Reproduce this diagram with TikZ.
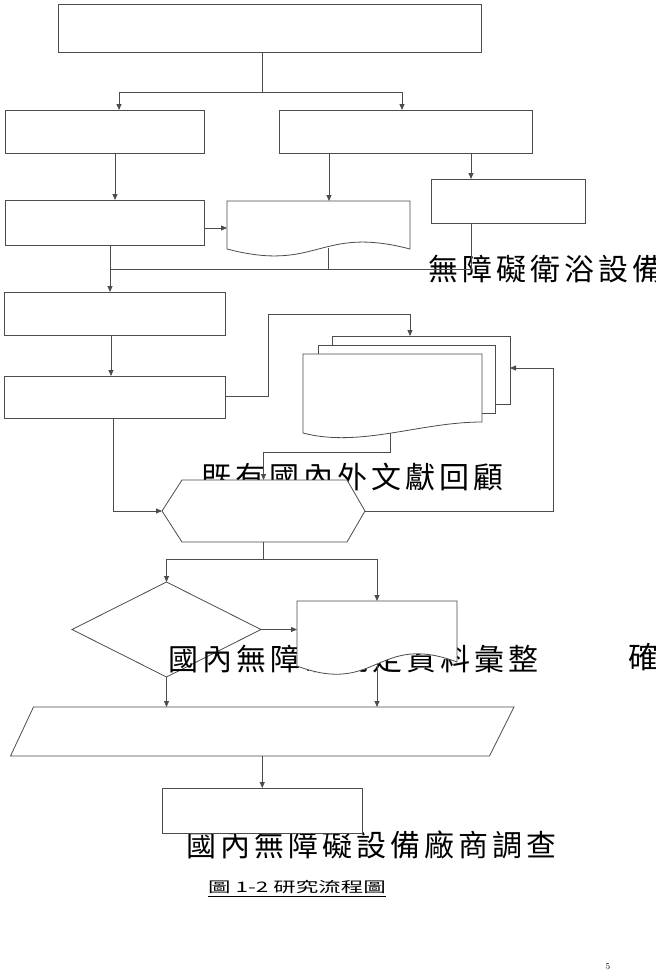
\documentclass[tikz,border=0pt]{standalone}
\usepackage{fontspec}
\usepackage{graphicx}
\usetikzlibrary{arrows.meta}
\newfontfamily\cjkfont[LetterSpace=13.3]{Noto Sans CJK TC}
\newfontfamily\capfont{Noto Sans CJK TC}
\begin{document}
\begin{tikzpicture}[x=1pt,y=-1pt,
  ln/.style={draw=black!70, line width=0.8pt},
  arr/.style={ln, -{Triangle[length=6pt,width=5pt]}},
  box/.style={ln, fill=white, rectangle, inner sep=0pt, outer sep=0pt, anchor=north west},
  ghost/.style={rectangle, inner sep=0pt, outer sep=0pt, anchor=north west},
  shp/.style={ln, fill=white, line join=miter},
  big/.style={font=\cjkfont\fontsize{30}{30}\selectfont, anchor=base west, inner sep=0pt},
]
\fill[white] (0,0) rectangle (656,970);
\useasboundingbox (0,0) rectangle (656,970);

% ---- upper part
\node[big] (t1) at (428.5,280) {無障礙衛浴設備};
\node[box, minimum width=423, minimum height=48] (top) at (58,4) {};
\node[box, minimum width=199, minimum height=43] (A) at (5,110) {};
\node[box, minimum width=253, minimum height=43] (B) at (279,110) {};
\node[box, minimum width=154, minimum height=44] (E) at (431,179) {};
\node[box, minimum width=199, minimum height=45] (C) at (5,200) {};
\node[ghost, minimum width=183, minimum height=48] (D) at (227,201) {};
\draw[shp] (D.north west) -- (D.north east) -- (D.south east)
  .. controls ([yshift=24]D.south) and ([yshift=-24]D.south) .. (D.south west) -- cycle;
\coordinate (Dbot) at ([xshift=9.5,yshift=1.5]D.south);

\node[box, minimum width=221, minimum height=43] (F) at (4,292) {};
\node[box, minimum width=221, minimum height=42] (G) at (4,376) {};

% ---- multi document
\node[box, minimum width=178, minimum height=68] (back) at (332,336) {};
\node[box, minimum width=177, minimum height=68] (mid) at (318,345) {};
\node[ghost, minimum width=179, minimum height=68] (front) at (303,354) {};
\draw[shp] (front.north west) -- (front.north east) -- (front.south east)
  .. controls (420,422) and (360,448) .. (303,433) -- cycle;
\coordinate (fbot) at (390,433);

% ---- hexagon
\node[big] (t2) at (201.5,488) {既有國內外文獻回顧};
\node[ghost, minimum width=203, minimum height=62] (hex) at (162,480) {};
\draw[shp] (hex.west) -- ([xshift=20]hex.north west) -- ([xshift=-18]hex.north east)
  -- (hex.east) -- ([xshift=-18]hex.south east) -- ([xshift=20]hex.south west) -- cycle;

% ---- diamond and document
\node[ghost, minimum width=189, minimum height=95] (dia) at (72,582) {};
\draw[shp] (dia.north) -- (dia.east) -- (dia.south) -- (dia.west) -- cycle;
\node[big] (t3) at (168.5,670) {國內無障礙規定資料彙整};
\node[big] (t4) at (628.5,668) {確};
\node[ghost, minimum width=160, minimum height=63] (H) at (297,601) {};
\draw[shp] (H.north west) -- (H.north east) -- ([yshift=2]H.south east)
  .. controls ([yshift=32]H.south) and ([yshift=-32]H.south) .. ([yshift=-2]H.south west) -- cycle;

% ---- parallelogram and last box
\node[ghost, minimum width=503.5, minimum height=49] (para) at (10.5,707) {};
\draw[shp] ([xshift=23]para.north west) -- (para.north east)
  -- ([xshift=-24.5]para.south east) -- (para.south west) -- cycle;
\node[big] (t5) at (186.5,856) {國內無障礙設備廠商調查};
\node[box, minimum width=200, minimum height=45] (I) at (162,788) {};

% ---- connectors
\coordinate (j1) at (262,92);
\draw[ln] (top.south -| j1) -- (j1);
\draw[arr] (j1) -| ([xshift=14.5]A.north);
\draw[arr] (j1) -| ([xshift=-3.5]B.north);
\draw[arr] ([xshift=10.5]A.south) -- ([xshift=10.5]C.north);
\draw[arr] ([xshift=-76.5]B.south) -- ([xshift=-76.5]B.south |- D.north);
\draw[arr] ([xshift=65.5]B.south) -- ([xshift=65.5]B.south |- E.north);
\draw[arr] ([yshift=-5.5]C.east) -- ([yshift=-5.5]C.east -| D.west);
\coordinate (j2) at (110,269);
\draw[ln] (C.south -| j2) -- (j2);
\draw[arr] (j2) -- (j2 |- F.north);
\draw[ln] (Dbot) -- (Dbot |- j2);
\draw[ln] ([xshift=-37]E.south) -- ([xshift=-37]E.south |- j2) -- (j2);
\draw[arr] ([xshift=-3.5]F.south) -- ([xshift=-3.5]F.south |- G.north);
\coordinate (k1) at (268.5,314);
\draw[arr] ([yshift=1]G.east) -| (k1) -| ([xshift=-11]back.north);
\draw[arr] (fbot) |- ([yshift=28]hex.north) -- (hex.north);
\draw[arr] ([xshift=-1.5]G.south) |- (hex.west);
\coordinate (k3) at (553,368);
\draw[arr] (hex.east) -| (k3) -- (k3 -| back.east);
\coordinate (j3) at (263.5,559);
\draw[ln] (hex.south) -- (j3);
\draw[arr] (j3) -| (dia.north);
\draw[arr] (j3) -| (H.north);
\draw[arr] (dia.east) -- (dia.east -| H.west);
\draw[arr] (dia.south) -- (dia.south |- para.north);
\draw[arr] (H.south) -- (H.south |- para.north);
\draw[arr] (para.south) -- (para.south |- I.north);

% ---- caption and page number
\node[font=\capfont\fontsize{14.5}{14.5}\selectfont, anchor=base west, inner sep=0pt] (cap) at (208,892)
  {\scalebox{1.55}[1]{圖 1-2 研究流程圖}};
\draw[black, line width=0.7pt] ([yshift=-2.5]cap.south west) -- ([yshift=-2.5]cap.south east);
\node[font=\fontsize{9}{9}\selectfont, anchor=base west, inner sep=0pt] (pg) at (605.5,969) {5};
\end{tikzpicture}
\end{document}
